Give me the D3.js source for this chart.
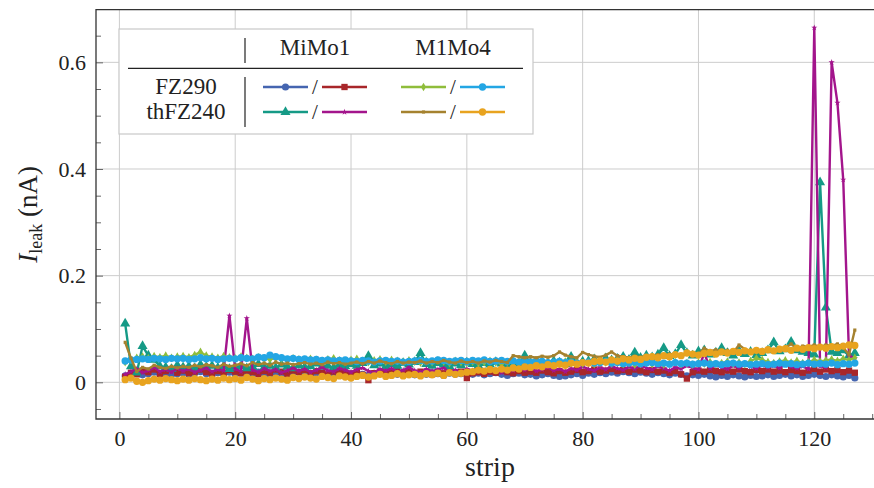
<!DOCTYPE html>
<html><head><meta charset="utf-8">
<script src="https://cdn.jsdelivr.net/npm/d3@7"></script>
<style>
html,body{margin:0;padding:0;background:#fff;}
svg text{font-family:"Liberation Serif","Times New Roman",serif;fill:#222;}
</style></head>
<body><svg id="c" width="874" height="488"></svg>
<script>
const strips = d3.range(1, 128);
const xTicks = [0,20,40,60,80,100,120];
const yTicks = [0,0.2,0.4,0.6];
const xMinor = [5,10,15,25,30,35,45,50,55,65,70,75,85,90,95,105,110,115,125,130];
const yMinor = [-0.05,0.05,0.1,0.15,0.25,0.3,0.35,0.45,0.5,0.55,0.65];
const colHeads = ["MiMo1","M1Mo4"];
const rowHeads = ["FZ290","thFZ240"];

const mimo1_FZ290_a = [
.012,.015,.018,.014,.016,.019,.015,.017,.014,.016,
.018,.015,.017,.020,.016,.014,.018,.016,.019,.015,
.017,.014,.016,.019,.017,.015,.018,.016,.014,.017,
.019,.016,.015,.018,.016,.014,.017,.019,.015,.016,
.018,.015,.013,.017,.016,.014,.018,.015,.017,.016,
.014,.017,.015,.018,.016,.013,.017,.015,.016,.018,
.015,.017,.014,.016,.018,.015,.013,.016,.017,.014,
.015,.012,.014,.016,.013,.011,.012,.014,.016,.013,
.017,.015,.018,.016,.019,.017,.020,.018,.016,.019,
.017,.015,.018,.016,.014,.017,.015,.012,.014,.013,
.015,.012,.010,.013,.011,.014,.012,.010,.013,.011,
.012,.014,.011,.013,.015,.012,.014,.011,.013,.015,
.013,.011,.014,.012,.010,.013,.008];
const mimo1_FZ290_b = [
.010,.018,.015,.022,.019,.024,.016,.021,.025,.018,
.022,.017,.020,.024,.019,.016,.021,.018,.023,.020,
.017,.022,.019,.015,.021,.018,.024,.020,.016,.022,
.019,.023,.017,.021,.018,.015,.020,.022,.018,.016,
.019,.014,.004,.017,.020,.016,.018,.021,.017,.019,
.016,.020,.018,.015,.019,.017,.021,.018,.020,.008,
.017,.019,.016,.020,.018,.022,.019,.017,.021,.018,
.020,.018,.022,.019,.017,.021,.018,.020,.023,.019,
.021,.024,.020,.022,.025,.021,.023,.020,.024,.022,
.019,.023,.020,.022,.018,.021,.015,.007,.019,.022,
.020,.023,.021,.019,.022,.020,.024,.021,.019,.023,
.021,.024,.020,.022,.019,.023,.021,.018,.022,.025,
.020,.024,.021,.023,.019,.022,.018];
const mimo1_thFZ240_a = [
.110,.030,.018,.068,.050,.042,.030,.028,.025,.032,
.028,.030,.026,.033,.029,.031,.027,.030,.025,.028,
.030,.026,.029,.034,.028,.031,.027,.033,.029,.026,
.032,.028,.030,.035,.029,.031,.027,.033,.030,.034,
.031,.036,.049,.032,.035,.030,.034,.031,.036,.033,
.038,.055,.034,.031,.036,.033,.030,.035,.032,.037,
.034,.031,.036,.033,.038,.035,.032,.037,.034,.050,
.036,.033,.038,.035,.040,.037,.034,.048,.036,.039,
.040,.043,.038,.045,.041,.044,.048,.042,.056,.046,
.050,.047,.052,.064,.049,.053,.070,.055,.050,.058,
.060,.052,.056,.064,.055,.050,.059,.053,.057,.051,
.055,.060,.075,.058,.062,.076,.060,.057,.055,.052,
.375,.140,.057,.055,.060,.050,.055];
const mimo1_thFZ240_b = [
.015,.020,.025,.018,.022,.028,.020,.024,.019,.026,
.021,.025,.019,.023,.027,.020,.024,.022,.125,.025,
.020,.120,.023,.019,.026,.021,.024,.018,.022,.027,
.021,.025,.019,.023,.028,.022,.020,.026,.023,.019,
.024,.027,.021,.018,.025,.022,.026,.020,.023,.028,
.022,.019,.025,.021,.024,.027,.020,.023,.019,.025,
.022,.026,.020,.024,.021,.018,.025,.022,.026,.023,
.027,.021,.024,.028,.022,.025,.020,.026,.023,.029,
.025,.022,.028,.024,.030,.026,.023,.029,.025,.031,
.027,.024,.030,.026,.022,.028,.025,.031,.027,.024,
.055,.026,.032,.028,.025,.031,.027,.033,.029,.026,
.032,.028,.031,.027,.034,.029,.026,.030,.025,.665,
.030,.028,.600,.524,.380,.050,.045];
const m1mo4_FZ290_a = [
.038,.042,.046,.048,.045,.049,.047,.050,.046,.048,
.049,.047,.051,.057,.050,.048,.046,.049,.047,.045,
.048,.046,.044,.047,.045,.043,.046,.044,.042,.045,
.043,.041,.044,.042,.040,.043,.045,.041,.039,.042,
.044,.040,.038,.041,.043,.039,.042,.040,.038,.041,
.039,.037,.040,.038,.041,.039,.036,.040,.038,.037,
.039,.036,.038,.040,.037,.035,.038,.036,.039,.037,
.035,.038,.036,.034,.037,.035,.039,.036,.038,.035,
.037,.034,.036,.038,.035,.037,.034,.036,.033,.035,
.037,.034,.036,.033,.035,.038,.034,.036,.033,.037,
.035,.038,.034,.036,.039,.035,.037,.034,.040,.045,
.042,.038,.036,.039,.041,.037,.040,.036,.038,.042,
.039,.041,.043,.040,.044,.042,.046];
const m1mo4_FZ290_b = [
.040,.042,.043,.044,.043,.045,.044,.043,.045,.044,
.045,.043,.044,.046,.044,.045,.043,.044,.045,.044,
.046,.045,.044,.047,.046,.051,.048,.046,.044,.045,
.043,.044,.042,.043,.041,.042,.040,.041,.042,.040,
.039,.041,.040,.038,.040,.041,.039,.040,.038,.039,
.040,.041,.039,.040,.042,.041,.039,.040,.041,.039,
.041,.040,.042,.039,.040,.041,.039,.040,.038,.039,
.038,.040,.039,.037,.038,.039,.037,.038,.036,.037,
.038,.036,.037,.039,.036,.037,.035,.036,.038,.035,
.036,.037,.035,.036,.034,.037,.035,.036,.034,.035,
.036,.034,.035,.033,.035,.036,.034,.035,.033,.034,
.035,.033,.034,.036,.034,.035,.033,.034,.036,.034,
.035,.034,.036,.033,.035,.034,.036];
const m1mo4_thFZ240_a = [
.075,.045,.020,.028,.025,.032,.028,.026,.030,.027,
.030,.028,.032,.029,.033,.031,.028,.034,.030,.032,
.035,.031,.037,.033,.036,.032,.038,.034,.036,.033,
.035,.037,.034,.036,.033,.038,.035,.037,.034,.036,
.038,.035,.039,.036,.040,.037,.035,.039,.036,.038,
.037,.040,.036,.039,.037,.041,.038,.036,.040,.037,
.039,.036,.040,.038,.041,.039,.037,.050,.048,.046,
.048,.046,.049,.047,.050,.057,.051,.048,.046,.056,
.052,.049,.047,.051,.057,.050,.048,.046,.049,.047,
.050,.048,.052,.049,.053,.051,.048,.054,.050,.052,
.064,.058,.061,.057,.060,.056,.070,.062,.059,.061,
.057,.060,.058,.062,.065,.072,.063,.068,.066,.070,
.066,.070,.068,.072,.065,.052,.098];
const m1mo4_thFZ240_b = [
.005,.008,.002,.000,.003,.006,.004,.007,.005,.003,
.006,.004,.007,.005,.003,.006,.004,.008,.005,.007,
.004,.009,.006,.003,.007,.005,.008,.006,.004,.009,
.007,.010,.008,.006,.011,.009,.007,.012,.010,.008,
.011,.013,.010,.012,.015,.011,.013,.016,.012,.014,
.015,.012,.016,.014,.017,.013,.018,.015,.017,.019,
.020,.023,.021,.024,.022,.025,.023,.027,.025,.029,
.028,.031,.029,.033,.031,.034,.032,.036,.034,.037,
.036,.039,.040,.038,.042,.040,.044,.042,.045,.043,
.047,.048,.046,.050,.048,.052,.050,.055,.053,.051,
.054,.056,.053,.057,.055,.058,.056,.059,.057,.060,
.058,.061,.059,.062,.063,.060,.064,.062,.065,.063,
.066,.064,.067,.065,.068,.070,.069];

const series = [
 {v:mimo1_FZ290_a,  c:"#4565b0", sym:d3.symbolCircle,   s:40, col:0,row:0,k:0},
 {v:mimo1_FZ290_b,  c:"#a8262a", sym:d3.symbolSquare,   s:40, col:0,row:0,k:1},
 {v:mimo1_thFZ240_a,c:"#159a86", sym:d3.symbolTriangle, s:44, col:0,row:1,k:0},
 {v:mimo1_thFZ240_b,c:"#a3158c", sym:d3.symbolStar,     s:12, col:0,row:1,k:1},
 {v:m1mo4_FZ290_a,  c:"#8fbd3b", sym:d3.symbolDiamond,  s:22, col:1,row:0,k:0},
 {v:m1mo4_FZ290_b,  c:"#23a6e4", sym:d3.symbolCircle,   s:42, col:1,row:0,k:1},
 {v:m1mo4_thFZ240_a,c:"#a5822f", sym:d3.symbolSquare,   s:10, col:1,row:1,k:0},
 {v:m1mo4_thFZ240_b,c:"#e8a31f", sym:d3.symbolCircle,   s:42, col:1,row:1,k:1}
];

const svg = d3.select("#c");
const L=96, R=884, T=9.7, B=419;
const x = d3.scaleLinear().domain([-4.04,132.04]).range([L,R]);
const y = d3.scaleLinear().domain([-0.0688,0.6987]).range([B,T]);

// grid
svg.append("g").selectAll("line").data(xTicks).join("line")
  .attr("x1",d=>x(d)).attr("x2",d=>x(d)).attr("y1",T).attr("y2",B)
  .attr("stroke","#cccccc").attr("stroke-width",1);
svg.append("g").selectAll("line").data(yTicks).join("line")
  .attr("y1",d=>y(d)).attr("y2",d=>y(d)).attr("x1",L).attr("x2",R)
  .attr("stroke","#cccccc").attr("stroke-width",1);

// axes
const fmt = d=> d===0? "0" : d3.format(".1f")(d);
const ax = svg.append("g").attr("transform",`translate(0,${B})`)
  .call(d3.axisBottom(x).tickValues(xTicks).tickSizeInner(-7).tickSizeOuter(0).tickPadding(11));
const ay = svg.append("g").attr("transform",`translate(${L},0)`)
  .call(d3.axisLeft(y).tickValues(yTicks).tickFormat(fmt).tickSizeInner(-7).tickSizeOuter(0).tickPadding(10));
const axm = svg.append("g").attr("transform",`translate(0,${B})`)
  .call(d3.axisBottom(x).tickValues(xMinor).tickSizeInner(-5).tickSizeOuter(0).tickFormat(""));
const aym = svg.append("g").attr("transform",`translate(${L},0)`)
  .call(d3.axisLeft(y).tickValues(yMinor).tickSizeInner(-5).tickSizeOuter(0).tickFormat(""));
[ax,ay,axm,aym].forEach(g=>{
  g.select(".domain").remove();
  g.selectAll(".tick line").attr("stroke","#666").attr("stroke-width",1);
  g.selectAll(".tick text").attr("font-size",22).attr("font-family","Liberation Serif, serif").attr("fill","#222");
});

// series
const line = d3.line().x((d,i)=>x(strips[i])).y(d=>y(d));
series.forEach(s=>{
  const g = svg.append("g");
  g.append("path").datum(s.v).attr("d",line).attr("fill","none")
    .attr("stroke",s.c).attr("stroke-width",2.4).attr("stroke-linejoin","round");
  g.selectAll("path.m").data(s.v).join("path").attr("class","m")
    .attr("transform",(d,i)=>`translate(${x(strips[i])},${y(d)})`)
    .attr("d",d3.symbol().type(s.sym).size(s.s)).attr("fill",s.c);
});

// frame
svg.append("path").attr("d",`M${R},${T}H${L}V${B}H${R}`).attr("fill","none")
  .attr("stroke","#333").attr("stroke-width",1.3);

// axis titles
svg.append("text").attr("x",(L+R)/2).attr("y",476).attr("text-anchor","middle")
  .attr("font-size",28).text("strip");
const yt = svg.append("text").attr("transform",`translate(37,${(T+B)/2}) rotate(-90)`)
  .attr("text-anchor","middle").attr("font-size",27);
yt.append("tspan").attr("font-style","italic").text("I");
yt.append("tspan").attr("font-size",18).attr("dy",5).text("leak");
yt.append("tspan").attr("dy",-5).text("\u00a0(nA)");

// legend
const lg = svg.append("g");
lg.append("rect").attr("x",119).attr("y",29).attr("width",414).attr("height",105)
  .attr("fill","#fff").attr("stroke","#c8c8c8").attr("stroke-width",1.2);
const colX=[315,453], rowY=[87,112];
colHeads.forEach((t,i)=>lg.append("text").attr("x",colX[i]).attr("y",55).attr("text-anchor","middle")
  .attr("font-size",23).text(t));
rowHeads.forEach((t,i)=>lg.append("text").attr("x",186).attr("y",rowY[i]+7).attr("text-anchor","middle")
  .attr("font-size",23).text(t));
lg.append("line").attr("x1",245).attr("x2",245).attr("y1",38).attr("y2",63).attr("stroke","#222").attr("stroke-width",1.2);
lg.append("line").attr("x1",245).attr("x2",245).attr("y1",77).attr("y2",127).attr("stroke","#222").attr("stroke-width",1.2);
lg.append("line").attr("x1",128).attr("x2",523).attr("y1",68.3).attr("y2",68.3).attr("stroke","#222").attr("stroke-width",1.3);
series.forEach(s=>{
  const x1 = colX[s.col] + (s.k===0 ? -52 : 7), x2 = x1+45, yy=rowY[s.row];
  lg.append("line").attr("x1",x1).attr("x2",x2).attr("y1",yy).attr("y2",yy)
    .attr("stroke",s.c).attr("stroke-width",2.4);
  lg.append("path").attr("transform",`translate(${(x1+x2)/2},${yy})`)
    .attr("d",d3.symbol().type(s.sym).size(s.s)).attr("fill",s.c);
});
[0,1].forEach(c=>[0,1].forEach(r=>lg.append("text").attr("x",colX[c]).attr("y",rowY[r]+7)
  .attr("text-anchor","middle").attr("font-size",21).text("/")));
</script></body></html>
